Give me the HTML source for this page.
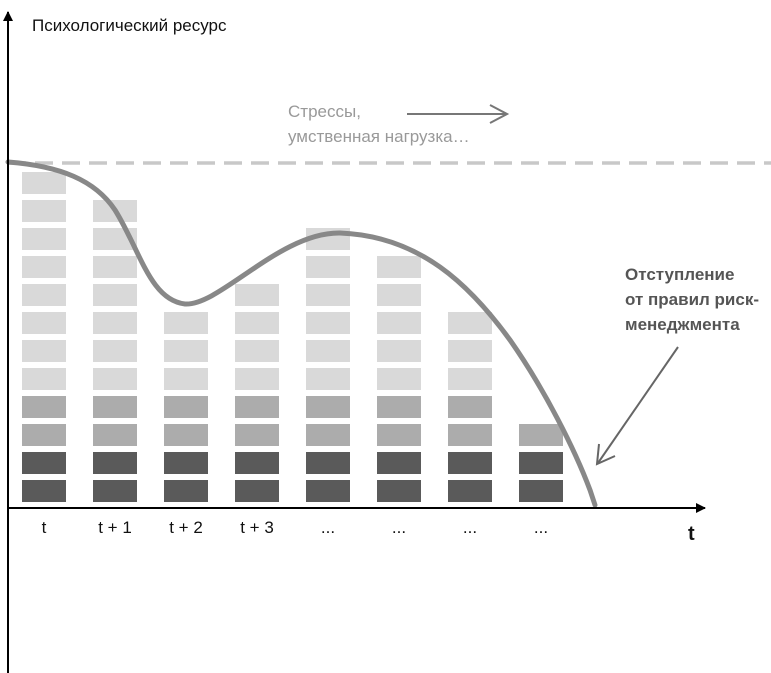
<!DOCTYPE html>
<html><head><meta charset="utf-8">
<style>
html,body{margin:0;padding:0;background:#fff;}
svg{display:block;}
text{font-family:"Liberation Sans Narrow","Liberation Sans",sans-serif;}
</style></head>
<body>
<svg id="chart" width="771" height="673" viewBox="0 0 771 673">
  <defs>
    <marker id="ah" markerWidth="10" markerHeight="10" refX="9" refY="5" orient="auto" markerUnits="userSpaceOnUse">
      <path d="M0,0 L10,5 L0,10 Z" fill="#000"/>
    </marker>
  </defs>
  <g id="blocks"></g>
  <line x1="8" y1="163" x2="771" y2="163" stroke="#c8c8c8" stroke-width="3.5" stroke-dasharray="18,9"/>
  <path d="M8,162 C60,166 95,180 115,210 C140,250 150,300 185,304 C220,306 280,232 340,233 C420,236 470,285 510,340 C545,390 575,450 590,490 L595,505" fill="none" stroke="#888" stroke-width="5" stroke-linecap="round"/>
  <line x1="8" y1="673" x2="8" y2="12" stroke="#000" stroke-width="2" marker-end="url(#ah)"/>
  <line x1="8" y1="508" x2="705" y2="508" stroke="#000" stroke-width="2" marker-end="url(#ah)"/>
  <text x="32" y="31" font-size="17" fill="#111">Психологический ресурс</text>
  <text x="688" y="540" font-size="20" font-weight="bold" fill="#111">t</text>
  <g id="xlabels"></g>
  <text x="288" y="117" font-size="17" fill="#999">Стрессы,</text>
  <text x="288" y="142" font-size="17" fill="#999">умственная нагрузка…</text>
  <g>
    <line x1="407" y1="114" x2="506" y2="114" stroke="#777" stroke-width="2"/>
    <polyline points="490,105 507,114 490,123" fill="none" stroke="#777" stroke-width="2"/>
  </g>
  <text x="625" y="280" font-size="17" font-weight="bold" fill="#555">Отступление</text>
  <text x="625" y="305" font-size="17" font-weight="bold" fill="#555">от правил риск-</text>
  <text x="625" y="330" font-size="17" font-weight="bold" fill="#555">менеджмента</text>
  <g>
    <line x1="678" y1="347" x2="598" y2="463" stroke="#666" stroke-width="2"/>
    <polyline points="599,444 597,464 615,456" fill="none" stroke="#666" stroke-width="2"/>
  </g>
</svg>
<script>
const categories = ["t","t + 1","t + 2","t + 3","...","...","...","..."];
const blockCounts = [12, 11, 7, 8, 10, 9, 7, 3];
const darkCount = 2;
const midCount = 2;

const NS = "http://www.w3.org/2000/svg";
const x0 = 22, colPitch = 71, colW = 44;
const yBottom = 480, rowPitch = 28, rowH = 22;
function xCol(i){ return x0 + i * colPitch; }
function yRow(r){ return yBottom - r * rowPitch; }
function rowColor(r){ return r < darkCount ? "#5a5a5a" : (r < darkCount + midCount ? "#acacac" : "#d9d9d9"); }

const bg = document.getElementById("blocks");
const lg = document.getElementById("xlabels");
categories.forEach((c, i) => {
  for (let r = 0; r < blockCounts[i]; r++) {
    const rect = document.createElementNS(NS, "rect");
    rect.setAttribute("x", xCol(i));
    rect.setAttribute("y", yRow(r));
    rect.setAttribute("width", colW);
    rect.setAttribute("height", rowH);
    rect.setAttribute("fill", rowColor(r));
    
    
    bg.appendChild(rect);
  }
  const t = document.createElementNS(NS, "text");
  t.setAttribute("x", xCol(i) + colW / 2);
  t.setAttribute("y", 533);
  t.setAttribute("text-anchor", "middle");
  t.setAttribute("font-size", "17");
  t.setAttribute("fill", "#111");
  t.textContent = c;
  
  
  lg.appendChild(t);
});
</script>
</body></html>
